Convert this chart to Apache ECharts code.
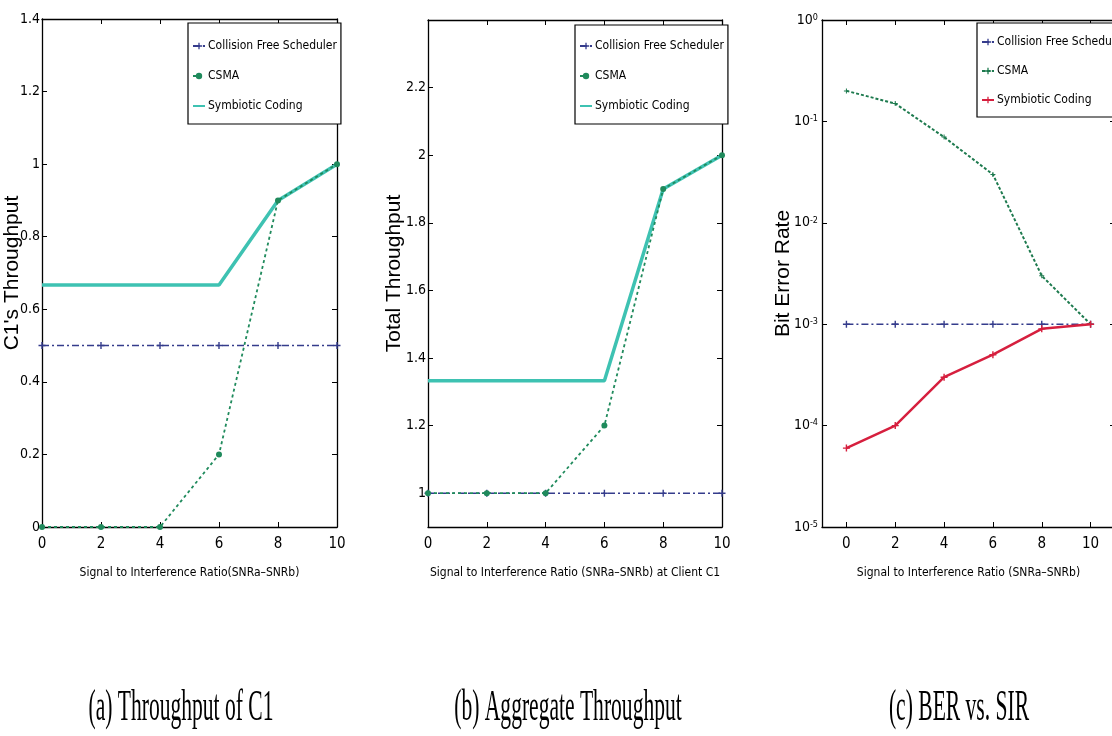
<!DOCTYPE html>
<html>
<head>
<meta charset="utf-8">
<script src="https://cdn.jsdelivr.net/npm/echarts@6/dist/echarts.min.js"></script>
<style>
  body { margin: 0; background: #fff; }
  .panel { position: absolute; top: 0; height: 736px; }
</style>
</head>
<body>
<div id="pa" class="panel" style="left:0;width:370px"></div>
<div id="pb" class="panel" style="left:370px;width:390px"></div>
<div id="pc" class="panel" style="left:760px;width:352px"></div>
<script>
// SIR values on the x axis (all three panels)
const sir = [0, 2, 4, 6, 8, 10];

// (a) throughput of C1
const c1Collision = [0.5, 0.5, 0.5, 0.5, 0.5, 0.5];
const c1Csma = [0, 0, 0, 0.2, 0.9, 1.0];
const c1Symbiotic = [0.667, 0.667, 0.667, 0.667, 0.9, 1.0];

// (b) aggregate throughput
const totalCollision = [1, 1, 1, 1, 1, 1];
const totalCsma = [1, 1, 1, 1.2, 1.9, 2.0];
const totalSymbiotic = [1.333, 1.333, 1.333, 1.333, 1.9, 2.0];

// (c) bit error rate
const berCollision = [1e-3, 1e-3, 1e-3, 1e-3, 1e-3, 1e-3];
const berCsma = [0.2, 0.15, 0.07, 0.03, 0.003, 0.001];
const berSymbiotic = [6e-5, 1e-4, 3e-4, 5e-4, 9e-4, 1e-3];

const seriesNames = ["Collision Free Scheduler", "CSMA", "Symbiotic Coding"];

const FONT = "'Liberation Sans Narrow', 'DejaVu Sans Condensed', 'Liberation Sans', sans-serif";
const NAME_FONT = "'Liberation Sans', Arial, sans-serif";
const PLUS = "path://M4,0H6V4H10V6H6V10H4V6H0V4H4Z";

const collisionStyle = { color: "#353c8c", symbol: PLUS, symbolSize: 7, lineStyle: { width: 1.5, type: [7, 3, 2, 3] } };
const csmaStyle = { color: "#1f8a5c", symbol: "circle", symbolSize: 6, z: 4, lineStyle: { width: 1.8, type: [3, 3] } };
const symbioticStyle = { color: "#3ec2b2", symbol: "none", z: 3, lineStyle: { width: 3.5 } };
const berCsmaStyle = { color: "#1d7a4e", symbol: PLUS, symbolSize: 5, z: 3, lineStyle: { width: 2, type: [3, 2] } };
const berSymbioticStyle = { color: "#d61f3e", symbol: PLUS, symbolSize: 7, z: 4, lineStyle: { width: 2.5 } };

function line(name, ys, style) {
  return Object.assign({
    name: name,
    type: "line",
    clip: false,
    data: sir.map((x, i) => [x, ys[i]])
  }, style);
}

// black box with inward ticks, matlab style
function frame(axis) {
  return Object.assign({
    axisLine: { onZero: false, lineStyle: { color: "#000", width: 1.3 } },
    axisTick: { inside: true, length: 5, lineStyle: { color: "#000", width: 1 } },
    splitLine: { show: false }
  }, axis);
}

function buildOption(cfg) {
  const xBase = { type: "value", min: cfg.xMin, max: cfg.xMax, minInterval: 2, maxInterval: 2 };
  const yBase = cfg.yLog
    ? { type: "log", logBase: 10, min: cfg.yMin, max: cfg.yMax }
    : { type: "value", min: cfg.yMin, max: cfg.yMax, minInterval: 0.2, maxInterval: 0.2 };
  let yLabel;
  if (cfg.yLog) {
    yLabel = {
      color: "#000",
      margin: 4,
      formatter: v => "{b|10}{s|" + Math.round(Math.log10(v)) + "}",
      rich: {
        b: { fontFamily: FONT, fontSize: 14, color: "#000" },
        s: { fontFamily: FONT, fontSize: 9, color: "#000", verticalAlign: "top" }
      }
    };
  } else {
    yLabel = {
      color: "#000",
      margin: 2,
      fontFamily: FONT,
      fontSize: 14,
      formatter: v => (v < cfg.yLabelMin - 1e-9 || v > cfg.yLabelMax + 1e-9) ? "" : String(Math.round(v * 10) / 10)
    };
  }
  // symbiotic coding has no marker, so hide the legend's marker
  const legendData = seriesNames.map(n => cfg.noMarker === n ? { name: n, itemStyle: { opacity: 0 } } : n);
  return {
    animation: false,
    backgroundColor: "#fff",
    grid: Object.assign({ outerBoundsMode: "none", containLabel: false }, cfg.grid),
    legend: Object.assign({
      orient: "vertical",
      data: legendData,
      backgroundColor: "#fff",
      borderColor: "#000",
      borderWidth: 1.2,
      borderRadius: 0,
      itemWidth: 12,
      itemHeight: 8,
      textStyle: { fontFamily: FONT, fontSize: 12, color: "#000", padding: [0, 0, 0, -2] }
    }, cfg.legend),
    xAxis: [
      frame(Object.assign({}, xBase, {
        position: "bottom",
        name: cfg.xName,
        nameLocation: "middle",
        nameGap: 40,
        nameMoveOverlap: false,
        nameTextStyle: { fontFamily: FONT, fontSize: 12, color: "#000" },
        axisLabel: {
          color: "#000",
          margin: 10,
          fontFamily: FONT,
          fontSize: 15,
          formatter: v => (v < 0 || v > 10) ? "" : String(v)
        }
      })),
      frame(Object.assign({}, xBase, { position: "top", axisLabel: { show: false } }))
    ],
    yAxis: [
      frame(Object.assign({}, yBase, {
        position: "left",
        name: cfg.yName,
        nameLocation: "middle",
        nameGap: cfg.yNameGap,
        nameMoveOverlap: false,
        nameTextStyle: { fontFamily: NAME_FONT, fontSize: 21, color: "#000" },
        axisLabel: yLabel
      })),
      frame(Object.assign({}, yBase, { position: "right", axisLabel: { show: false } }))
    ],
    series: cfg.series,
    graphic: [{
      type: "text",
      x: cfg.captionX,
      y: 708,
      scaleX: 0.49,
      style: {
        text: cfg.caption,
        font: "44px 'Liberation Serif', 'Times New Roman', serif",
        fill: "#000",
        align: "center",
        verticalAlign: "middle"
      }
    }]
  };
}

const panels = [
  {
    id: "pa",
    grid: { left: 42, top: 19, width: 295, height: 508 },
    legend: { left: 188, top: 23, padding: [17, 4, 12, 4], itemGap: 18 },
    xMin: 0, xMax: 10,
    yMin: 0, yMax: 1.4, yLabelMin: 0, yLabelMax: 1.4,
    xName: "Signal to Interference Ratio(SNRa\u2013SNRb)",
    yName: "C1's Throughput",
    yNameGap: 19,
    noMarker: seriesNames[2],
    caption: "(a) Throughput of C1",
    captionX: 181,
    series: [
      line(seriesNames[0], c1Collision, collisionStyle),
      line(seriesNames[1], c1Csma, csmaStyle),
      line(seriesNames[2], c1Symbiotic, symbioticStyle)
    ]
  },
  {
    id: "pb",
    grid: { left: 58, top: 20, width: 294, height: 507 },
    legend: { left: 205, top: 25, padding: [15, 4, 12, 4], itemGap: 18 },
    xMin: 0, xMax: 10,
    yMin: 0.9, yMax: 2.4, yLabelMin: 1, yLabelMax: 2.2,
    xName: "Signal to Interference Ratio (SNRa\u2013SNRb) at Client C1",
    yName: "Total Throughput",
    yNameGap: 23,
    noMarker: seriesNames[2],
    caption: "(b) Aggregate Throughput",
    captionX: 198,
    series: [
      line(seriesNames[0], totalCollision, collisionStyle),
      line(seriesNames[1], totalCsma, csmaStyle),
      line(seriesNames[2], totalSymbiotic, symbioticStyle)
    ]
  },
  {
    id: "pc",
    grid: { left: 62, top: 20, width: 293, height: 507 },
    legend: { left: 217, top: 23, padding: [13, 4, 11, 4], itemGap: 17 },
    xMin: -1, xMax: 11,
    yLog: true, yMin: 1e-5, yMax: 1,
    xName: "Signal to Interference Ratio (SNRa\u2013SNRb)",
    yName: "Bit Error Rate",
    yNameGap: 28,
    caption: "(c) BER vs. SIR",
    captionX: 199,
    series: [
      line(seriesNames[0], berCollision, collisionStyle),
      line(seriesNames[1], berCsma, berCsmaStyle),
      line(seriesNames[2], berSymbiotic, berSymbioticStyle)
    ]
  }
];

panels.forEach(cfg => {
  const chart = echarts.init(document.getElementById(cfg.id));
  chart.setOption(buildOption(cfg));
});
</script>
</body>
</html>
